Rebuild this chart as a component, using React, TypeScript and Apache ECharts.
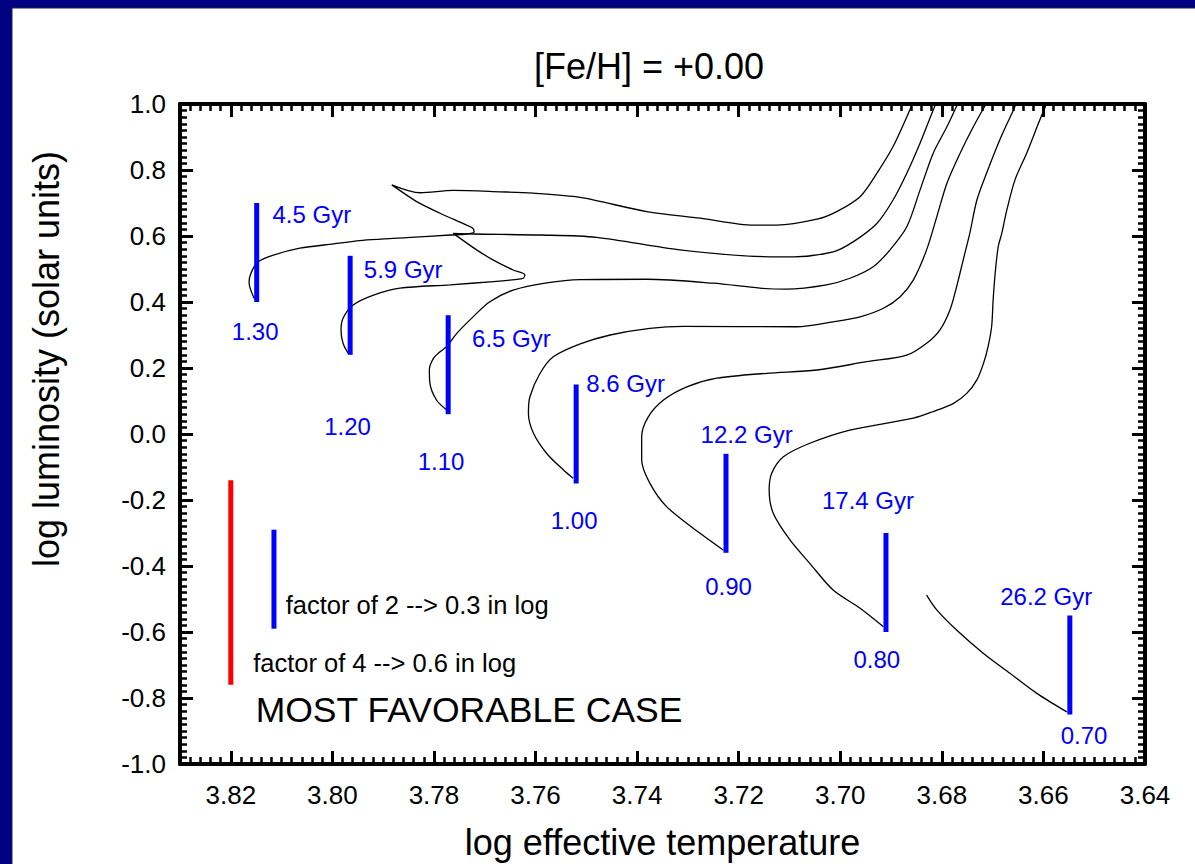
import React, { useEffect, useRef } from "react";
import * as echarts from "echarts";

const TITLE = "[Fe/H] = +0.00";
const X_NAME = "log effective temperature";
const Y_NAME = "log luminosity (solar units)";

const X_MIN = 3.64;
const X_MAX = 3.83;
const X_MAJOR = 0.02;
const X_MINOR = 0.002;
const Y_MIN = -1.0;
const Y_MAX = 1.0;
const Y_MAJOR = 0.2;
const Y_MINOR = 0.02;

// isochrones: [log Teff, log L]
const iso45 = [[3.8154,0.411],[3.8162,0.442],[3.8164,0.462],[3.8159,0.492],[3.8146,0.522],[3.8116,0.542],[3.8064,0.563],[3.7998,0.576],[3.7932,0.588],[3.7854,0.595],[3.7768,0.603],[3.7736,0.606],[3.7721,0.612],[3.7723,0.623],[3.7736,0.633],[3.7788,0.669],[3.7834,0.704],[3.7883,0.755],[3.7827,0.731],[3.7762,0.738],[3.7670,0.734],[3.7605,0.730],[3.7512,0.717],[3.7381,0.674],[3.7276,0.654],[3.7171,0.633],[3.7125,0.633],[3.7046,0.651],[3.7007,0.674],[3.6961,0.719],[3.6928,0.790],[3.6896,0.871],[3.6858,1.0]];
const iso59 = [[3.7969,0.245],[3.7979,0.275],[3.7983,0.315],[3.7979,0.351],[3.7959,0.391],[3.7919,0.421],[3.7867,0.442],[3.7768,0.452],[3.7683,0.462],[3.7640,0.468],[3.7624,0.472],[3.7621,0.482],[3.7644,0.497],[3.7683,0.527],[3.7716,0.558],[3.7762,0.608],[3.7723,0.606],[3.7591,0.603],[3.7480,0.596],[3.7316,0.558],[3.7138,0.537],[3.7092,0.537],[3.7014,0.552],[3.6974,0.583],[3.6928,0.638],[3.6896,0.709],[3.6869,0.790],[3.6843,0.881],[3.6817,0.982],[3.6812,1.0]];
const iso65 = [[3.7775,0.073],[3.7795,0.103],[3.7808,0.154],[3.7809,0.194],[3.7801,0.229],[3.7788,0.249],[3.7775,0.265],[3.7755,0.305],[3.7723,0.355],[3.7690,0.401],[3.7644,0.436],[3.7578,0.458],[3.7512,0.468],[3.7381,0.469],[3.7250,0.457],[3.7158,0.442],[3.7106,0.439],[3.7027,0.452],[3.6981,0.472],[3.6935,0.507],[3.6902,0.558],[3.6869,0.628],[3.6843,0.739],[3.6817,0.851],[3.6790,0.931],[3.6769,1.0]];
const iso86 = [[3.7526,-0.134],[3.7545,-0.109],[3.7578,-0.059],[3.7604,0.002],[3.7614,0.063],[3.7611,0.113],[3.7591,0.184],[3.7565,0.234],[3.7512,0.273],[3.7453,0.300],[3.7375,0.320],[3.7309,0.326],[3.7086,0.325],[3.7014,0.340],[3.6961,0.355],[3.6915,0.381],[3.6882,0.416],[3.6856,0.467],[3.6830,0.558],[3.6810,0.658],[3.6790,0.760],[3.6764,0.851],[3.6738,0.931],[3.6713,1.0]];
const iso122 = [[3.7230,-0.352],[3.7276,-0.301],[3.7342,-0.220],[3.7375,-0.149],[3.7391,-0.079],[3.7391,-0.008],[3.7378,0.052],[3.7348,0.103],[3.7302,0.143],[3.7243,0.169],[3.7145,0.184],[3.7046,0.194],[3.6948,0.219],[3.6869,0.239],[3.6830,0.275],[3.6804,0.315],[3.6784,0.376],[3.6771,0.446],[3.6758,0.527],[3.6745,0.608],[3.6731,0.709],[3.6712,0.790],[3.6686,0.891],[3.6659,0.982],[3.6654,1.0]];
const iso174 = [[3.6915,-0.584],[3.6961,-0.528],[3.7014,-0.473],[3.7060,-0.392],[3.7099,-0.321],[3.7132,-0.240],[3.7140,-0.170],[3.7135,-0.119],[3.7112,-0.069],[3.7060,-0.028],[3.6981,0.012],[3.6856,0.048],[3.6817,0.068],[3.6777,0.093],[3.6751,0.123],[3.6731,0.164],[3.6718,0.214],[3.6709,0.265],[3.6702,0.325],[3.6699,0.406],[3.6695,0.487],[3.6689,0.568],[3.6682,0.608],[3.6672,0.679],[3.6656,0.770],[3.6633,0.851],[3.6607,0.952],[3.6594,1.0]];
const iso262 = [[3.6830,-0.488],[3.6810,-0.533],[3.6771,-0.594],[3.6718,-0.665],[3.6666,-0.725],[3.6613,-0.786],[3.6554,-0.842]];
const isochrones = [iso45, iso59, iso65, iso86, iso122, iso174, iso262];

// turn-off bars
const barTeff = [3.8149, 3.7965, 3.7772, 3.7520, 3.7225, 3.6910, 3.6548];
const barLow = [0.40, 0.24, 0.06, -0.15, -0.36, -0.60, -0.85];
const barHigh = [0.70, 0.54, 0.36, 0.15, -0.06, -0.30, -0.55];

const ageLabels = ["4.5 Gyr", "5.9 Gyr", "6.5 Gyr", "8.6 Gyr", "12.2 Gyr", "17.4 Gyr", "26.2 Gyr"];
const agePos = [[3.8119,0.666],[3.7939,0.499],[3.7726,0.290],[3.7501,0.154],[3.7276,-0.003],[3.7037,-0.200],[3.6686,-0.493]];
const massLabels = ["1.30", "1.20", "1.10", "1.00", "0.90", "0.80", "0.70"];
const massPos = [[3.8152,0.310],[3.7970,0.024],[3.7786,-0.082],[3.7524,-0.261],[3.7220,-0.463],[3.6928,-0.683],[3.6520,-0.915]];

// reference bars
const refTeff = [3.8200, 3.8115];
const refLow = [-0.76, -0.59];
const refHigh = [-0.14, -0.29];
const refColors = ["#ff0000", "#0000ff"];

const notes = ["factor of 2 --> 0.3 in log", "factor of 4 --> 0.6 in log"];
const notePos = [[3.8093,-0.518],[3.8157,-0.695]];
const caseText = "MOST FAVORABLE CASE";
const casePos = [3.8152, -0.836];

const FONT = "'Liberation Sans', Arial, Helvetica, sans-serif";
const BLUE = "#0000ff";

function onGrid(v: number, step: number) {
  return Math.abs(v / step - Math.round(v / step)) < 1e-6;
}

function xAxis(position: string, major: boolean, labels: boolean) {
  return {
    type: "value",
    gridIndex: 0,
    position,
    min: X_MIN,
    max: X_MAX,
    interval: major ? X_MAJOR : X_MINOR,
    inverse: true,
    name: labels ? X_NAME : "",
    nameLocation: "middle",
    nameGap: 60,
    nameTextStyle: { color: "#000", fontSize: 36, fontFamily: FONT },
    axisLine: { show: major, onZero: false, lineStyle: { color: "#000", width: 4 } },
    axisTick: { show: true, inside: true, length: major ? 13 : 7, lineStyle: { color: "#000", width: major ? 3 : 2.5 } },
    axisLabel: labels
      ? {
          show: true,
          margin: 18,
          color: "#000",
          fontSize: 26,
          fontFamily: FONT,
          formatter: (v: number) => (onGrid(v, X_MAJOR) ? v.toFixed(2) : ""),
        }
      : { show: false },
    splitLine: { show: false },
    minorTick: { show: false },
  };
}

function yAxis(position: string, major: boolean, labels: boolean) {
  return {
    type: "value",
    gridIndex: 0,
    position,
    min: Y_MIN,
    max: Y_MAX,
    interval: major ? Y_MAJOR : Y_MINOR,
    axisLine: { show: major, onZero: false, lineStyle: { color: "#000", width: 4 } },
    axisTick: { show: true, inside: true, length: major ? 13 : 7, lineStyle: { color: "#000", width: major ? 3 : 2.5 } },
    axisLabel: labels
      ? {
          show: true,
          margin: 14,
          color: "#000",
          fontSize: 26,
          fontFamily: FONT,
          formatter: (v: number) => (Math.abs(v) < 1e-9 ? "0.0" : v.toFixed(1)),
        }
      : { show: false },
    splitLine: { show: false },
    minorTick: { show: false },
  };
}

function textSeries(items: { name: string; value: number[] }[], position: string, color: string, fontSize: number) {
  return {
    type: "scatter",
    xAxisIndex: 0,
    yAxisIndex: 0,
    silent: true,
    symbol: "circle",
    symbolSize: 1,
    itemStyle: { color: "rgba(0,0,0,0)" },
    z: 5,
    data: items,
    label: {
      show: true,
      position,
      distance: 0,
      formatter: "{b}",
      color,
      opacity: 1,
      fontSize,
      fontFamily: FONT,
    },
  };
}

export default function App() {
  const ref = useRef<HTMLDivElement>(null);

  useEffect(() => {
    if (!ref.current) return;
    const chart = echarts.init(ref.current, undefined, { renderer: "svg", width: 1195, height: 864 });

    const series: any[] = [];
    isochrones.forEach((iso) => {
      series.push({
        type: "line",
        xAxisIndex: 0,
        yAxisIndex: 0,
        data: iso,
        showSymbol: false,
        symbol: "none",
        smooth: 0.3,
        silent: true,
        lineStyle: { color: "#000", width: 1.3 },
        z: 3,
      });
    });
    barTeff.forEach((t, i) => {
      series.push({
        type: "line",
        xAxisIndex: 0,
        yAxisIndex: 0,
        data: [[t, barLow[i]], [t, barHigh[i]]],
        symbol: "none",
        silent: true,
        lineStyle: { color: BLUE, width: 5, cap: "butt" },
        z: 4,
      });
    });
    refTeff.forEach((t, i) => {
      series.push({
        type: "line",
        xAxisIndex: 0,
        yAxisIndex: 0,
        data: [[t, refLow[i]], [t, refHigh[i]]],
        symbol: "none",
        silent: true,
        lineStyle: { color: refColors[i], width: 5, cap: "butt" },
        z: 4,
      });
    });
    series.push(textSeries(ageLabels.map((n, i) => ({ name: n, value: agePos[i] })), "right", BLUE, 24));
    series.push(textSeries(massLabels.map((n, i) => ({ name: n, value: massPos[i] })), "inside", BLUE, 24));
    series.push(textSeries(notes.map((n, i) => ({ name: n, value: notePos[i] })), "right", "#000", 25.5));
    series.push(textSeries([{ name: caseText, value: casePos }], "right", "#000", 35.5));

    chart.setOption({
      animation: false,
      backgroundColor: "#000082",
      grid: { left: 180, top: 104, width: 965, height: 660, containLabel: false, outerBoundsMode: "none" },
      xAxis: [
        xAxis("bottom", true, true),
        xAxis("bottom", false, false),
        xAxis("top", true, false),
        xAxis("top", false, false),
      ],
      yAxis: [
        yAxis("left", true, true),
        yAxis("left", false, false),
        yAxis("right", true, false),
        yAxis("right", false, false),
      ],
      graphic: [
        {
          type: "rect",
          z: -10,
          silent: true,
          shape: { x: 12, y: 8, width: 1190, height: 860 },
          style: { fill: "#ffffff", stroke: "#202040", lineWidth: 1 },
        },
        {
          type: "text",
          z: 10,
          x: 649,
          y: 66,
          silent: true,
          style: { text: TITLE, fill: "#000", fontSize: 36, fontFamily: FONT, textAlign: "center", textVerticalAlign: "middle" },
        },
        {
          type: "text",
          z: 10,
          x: 46,
          y: 359,
          rotation: Math.PI / 2,
          silent: true,
          style: { text: Y_NAME, fill: "#000", fontSize: 36, fontFamily: FONT, textAlign: "center", textVerticalAlign: "middle" },
        },
      ],
      series,
    });

    return () => chart.dispose();
  }, []);

  return (
    <div
      ref={ref}
      style={{ position: "absolute", left: 0, top: 0, width: 1195, height: 864 }}
    />
  );
}
